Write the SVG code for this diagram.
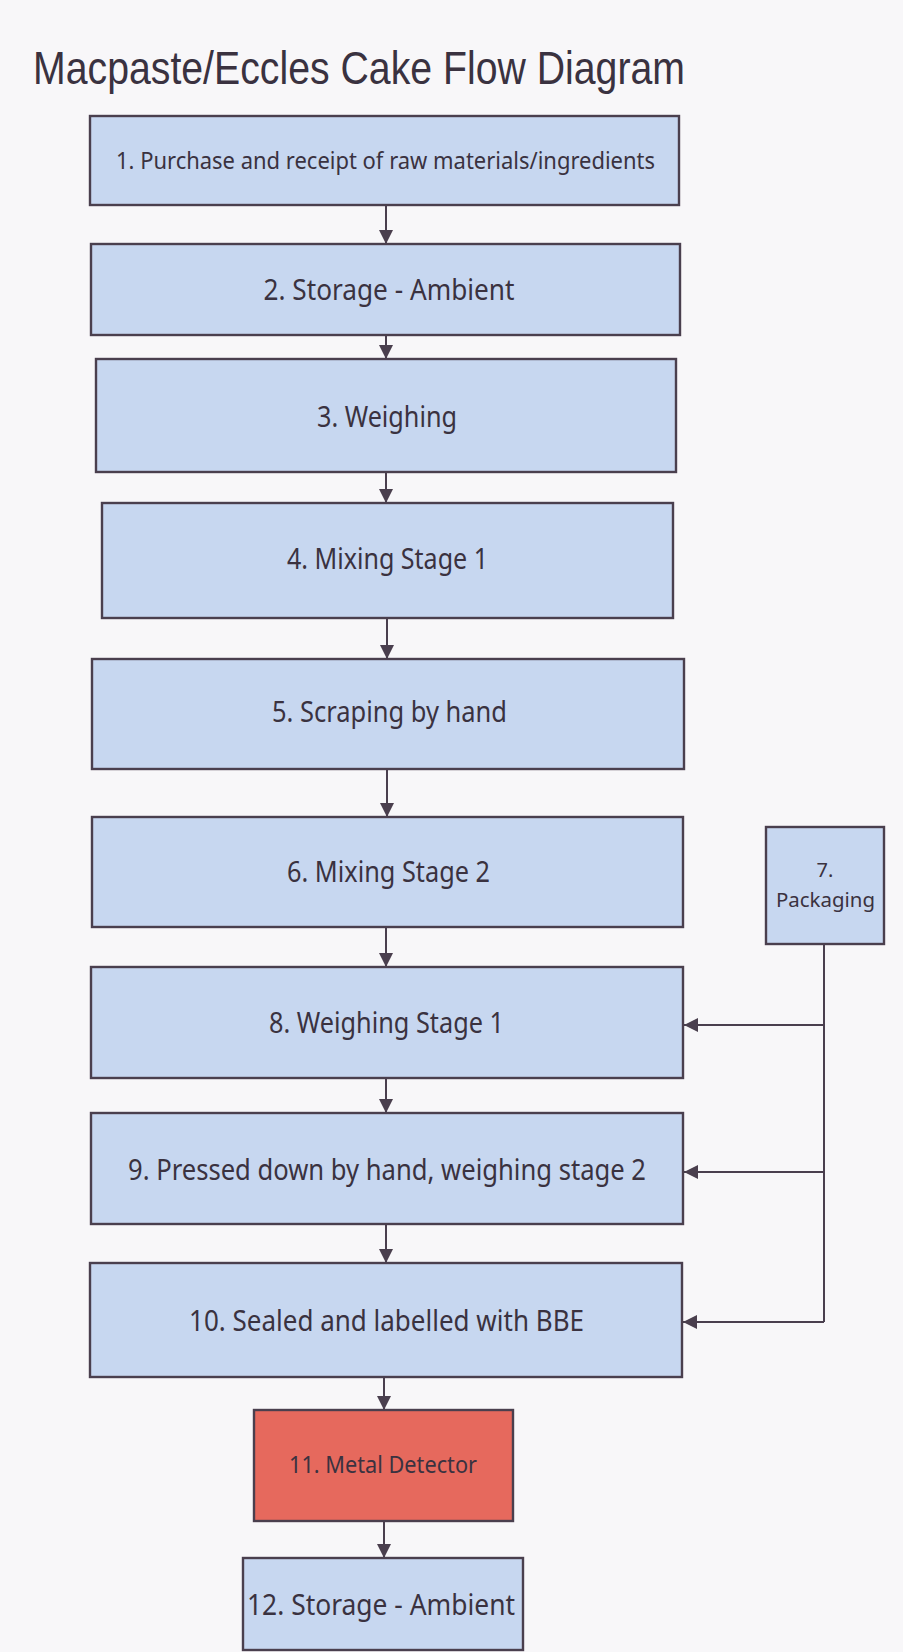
<svg xmlns="http://www.w3.org/2000/svg" width="903" height="1652" viewBox="0 0 903 1652">
<style>
.box{fill:#c7d7f0;stroke:#4a3f4e;stroke-width:2.4}
.red{fill:#e6695d;stroke:#4a3f4e;stroke-width:2.4}
.t{font-family:"Noto Sans","DejaVu Sans",sans-serif;fill:#3a3240;text-anchor:middle}
.ln{stroke:#4a3f4e;stroke-width:2;fill:none}
.title{font-family:"Liberation Sans",Arial,sans-serif;fill:#3a3240;font-size:46px}
</style>
<defs>
<marker id="ah" markerUnits="userSpaceOnUse" markerWidth="14" markerHeight="14" viewBox="0 0 14 14" refX="14" refY="7" orient="auto">
<path d="M0,0 L14,7 L0,14 Z" fill="#4a3f4e"/>
</marker>
</defs>
<rect width="903" height="1652" fill="#f8f7f9"/>
<text class="title" x="33" y="84" textLength="652" lengthAdjust="spacingAndGlyphs">Macpaste/Eccles Cake Flow Diagram</text>
<g id="connectors">
<line class="ln" x1="386" y1="205" x2="386" y2="244" marker-end="url(#ah)"/>
<line class="ln" x1="386" y1="335" x2="386" y2="359" marker-end="url(#ah)"/>
<line class="ln" x1="386" y1="472" x2="386" y2="503" marker-end="url(#ah)"/>
<line class="ln" x1="387" y1="618" x2="387" y2="659" marker-end="url(#ah)"/>
<line class="ln" x1="387" y1="769" x2="387" y2="817" marker-end="url(#ah)"/>
<line class="ln" x1="386" y1="927" x2="386" y2="967" marker-end="url(#ah)"/>
<line class="ln" x1="386" y1="1078" x2="386" y2="1113" marker-end="url(#ah)"/>
<line class="ln" x1="386" y1="1224" x2="386" y2="1263" marker-end="url(#ah)"/>
<line class="ln" x1="384" y1="1377" x2="384" y2="1410" marker-end="url(#ah)"/>
<line class="ln" x1="384" y1="1521" x2="384" y2="1558" marker-end="url(#ah)"/>
<line class="ln" x1="824" y1="944" x2="824" y2="1322"/>
<line class="ln" x1="824" y1="1025" x2="684" y2="1025" marker-end="url(#ah)"/>
<line class="ln" x1="824" y1="1172" x2="684" y2="1172" marker-end="url(#ah)"/>
<line class="ln" x1="824" y1="1322" x2="683" y2="1322" marker-end="url(#ah)"/>
</g>
<g id="n1"><rect class="box" x="90" y="116" width="589" height="89"/><text class="t" x="385.5" y="169" font-size="24" textLength="539" lengthAdjust="spacingAndGlyphs">1. Purchase and receipt of raw materials/ingredients</text></g>
<g id="n2"><rect class="box" x="91" y="244" width="589" height="91"/><text class="t" x="389" y="300" font-size="29" textLength="251" lengthAdjust="spacingAndGlyphs">2. Storage - Ambient</text></g>
<g id="n3"><rect class="box" x="96" y="359" width="580" height="113"/><text class="t" x="387" y="427" font-size="29" textLength="140" lengthAdjust="spacingAndGlyphs">3. Weighing</text></g>
<g id="n4"><rect class="box" x="102" y="503" width="571" height="115"/><text class="t" x="387.5" y="569" font-size="29" textLength="201" lengthAdjust="spacingAndGlyphs">4. Mixing Stage 1</text></g>
<g id="n5"><rect class="box" x="92" y="659" width="592" height="110"/><text class="t" x="389.5" y="722" font-size="29" textLength="235" lengthAdjust="spacingAndGlyphs">5. Scraping by hand</text></g>
<g id="n6"><rect class="box" x="92" y="817" width="591" height="110"/><text class="t" x="388.5" y="882" font-size="29" textLength="203" lengthAdjust="spacingAndGlyphs">6. Mixing Stage 2</text></g>
<g id="n7"><rect class="box" x="766" y="827" width="118" height="117"/><text class="t" x="825" y="877" font-size="20">7.</text><text class="t" x="825.5" y="907" font-size="20" textLength="99" lengthAdjust="spacingAndGlyphs">Packaging</text></g>
<g id="n8"><rect class="box" x="91" y="967" width="592" height="111"/><text class="t" x="386.5" y="1033" font-size="29" textLength="235" lengthAdjust="spacingAndGlyphs">8. Weighing Stage 1</text></g>
<g id="n9"><rect class="box" x="91" y="1113" width="592" height="111"/><text class="t" x="387" y="1180" font-size="29" textLength="518" lengthAdjust="spacingAndGlyphs">9. Pressed down by hand, weighing stage 2</text></g>
<g id="n10"><rect class="box" x="90" y="1263" width="592" height="114"/><text class="t" x="386.5" y="1331" font-size="29" textLength="395" lengthAdjust="spacingAndGlyphs">10. Sealed and labelled with BBE</text></g>
<g id="n11"><rect class="red" x="254" y="1410" width="259" height="111"/><text class="t" x="383" y="1473" font-size="23" textLength="188" lengthAdjust="spacingAndGlyphs">11. Metal Detector</text></g>
<g id="n12"><rect class="box" x="243" y="1558" width="280" height="92"/><text class="t" x="381" y="1615" font-size="29" textLength="268" lengthAdjust="spacingAndGlyphs">12. Storage - Ambient</text></g>
</svg>
